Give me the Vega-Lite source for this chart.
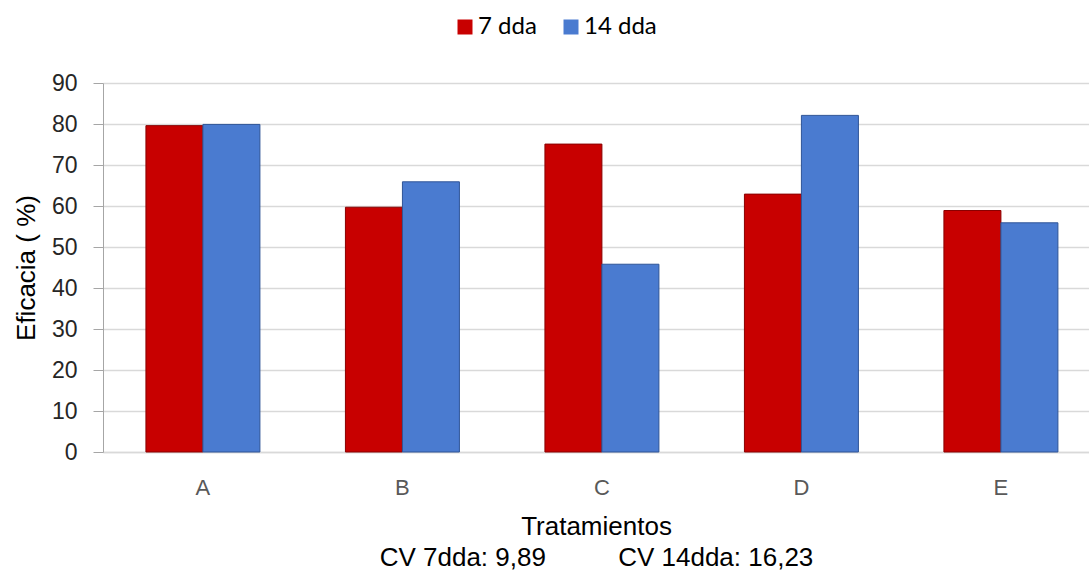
{
  "$schema": "https://vega.github.io/schema/vega-lite/v6.json",
  "width": 986,
  "height": 369,
  "autosize": "none",
  "padding": {"left": 103, "top": 83, "right": 0, "bottom": 120},
  "background": "white",
  "data": {
    "values": [
      {"trat": "A", "serie": "7 dda", "eficacia": 79.6},
      {"trat": "A", "serie": "14 dda", "eficacia": 79.9},
      {"trat": "B", "serie": "7 dda", "eficacia": 59.7},
      {"trat": "B", "serie": "14 dda", "eficacia": 65.9},
      {"trat": "C", "serie": "7 dda", "eficacia": 75.1},
      {"trat": "C", "serie": "14 dda", "eficacia": 45.8},
      {"trat": "D", "serie": "7 dda", "eficacia": 62.9},
      {"trat": "D", "serie": "14 dda", "eficacia": 82.1},
      {"trat": "E", "serie": "7 dda", "eficacia": 58.9},
      {"trat": "E", "serie": "14 dda", "eficacia": 55.9}
    ]
  },
  "mark": {"type": "bar", "strokeWidth": 1},
  "encoding": {
    "x": {
      "field": "trat",
      "type": "nominal",
      "scale": {"paddingInner": 0.4286, "paddingOuter": 0.1855, "align": 0.58},
      "axis": {
        "labelAngle": 0,
        "labelFont": "Liberation Sans",
        "labelFontSize": 22,
        "labelColor": "#595959",
        "labelPadding": 25,
        "ticks": false,
        "domainColor": "#d9d9d9",
        "domainWidth": 1.5,
        "title": ["Tratamientos", "CV 7dda: 9,89\u00a0\u00a0\u00a0\u00a0\u00a0\u00a0\u00a0\u00a0\u00a0\u00a0CV 14dda: 16,23"],
        "titleFont": "Liberation Sans",
        "titleFontSize": 26,
        "titleFontWeight": "normal",
        "titleColor": "#000000",
        "titleLineHeight": 31,
        "titlePadding": 15
      }
    },
    "xOffset": {"field": "serie", "type": "nominal", "sort": ["7 dda", "14 dda"], "scale": {"paddingInner": 0, "paddingOuter": 0}},
    "y": {
      "field": "eficacia",
      "type": "quantitative",
      "scale": {"domain": [0, 90], "nice": false},
      "axis": {
        "values": [0, 10, 20, 30, 40, 50, 60, 70, 80, 90],
        "labelFont": "Liberation Sans",
        "labelFontSize": 23,
        "labelColor": "#262626",
        "labelPadding": 16,
        "tickSize": 10,
        "tickColor": "#a6a6a6",
        "domainColor": "#a6a6a6",
        "gridColor": "#d9d9d9",
        "gridWidth": 1.5,
        "title": "Eficacia ( %)",
        "titleFont": "Liberation Sans",
        "titleFontSize": 26,
        "titleFontWeight": "normal",
        "titleColor": "#000000",
        "titlePadding": 12
      }
    },
    "color": {
      "field": "serie",
      "type": "nominal",
      "sort": ["7 dda", "14 dda"],
      "scale": {"domain": ["7 dda", "14 dda"], "range": ["#c80000", "#4a7bd0"]},
      "legend": {
        "title": null,
        "orient": "none",
        "direction": "horizontal",
        "legendX": 350,
        "legendY": -68,
        "padding": 0,
        "symbolType": "square",
        "symbolSize": 225,
        "symbolStrokeWidth": 0,
        "symbolOpacity": 1,
        "labelFont": "Lato",
        "labelFontSize": 24,
        "labelColor": "#000000",
        "labelOffset": 1,
        "columnPadding": 22
      }
    },
    "stroke": {
      "field": "serie",
      "type": "nominal",
      "scale": {"domain": ["7 dda", "14 dda"], "range": ["#8a0000", "#2f5597"]},
      "legend": null
    }
  },
  "config": {"view": {"stroke": null}}
}
